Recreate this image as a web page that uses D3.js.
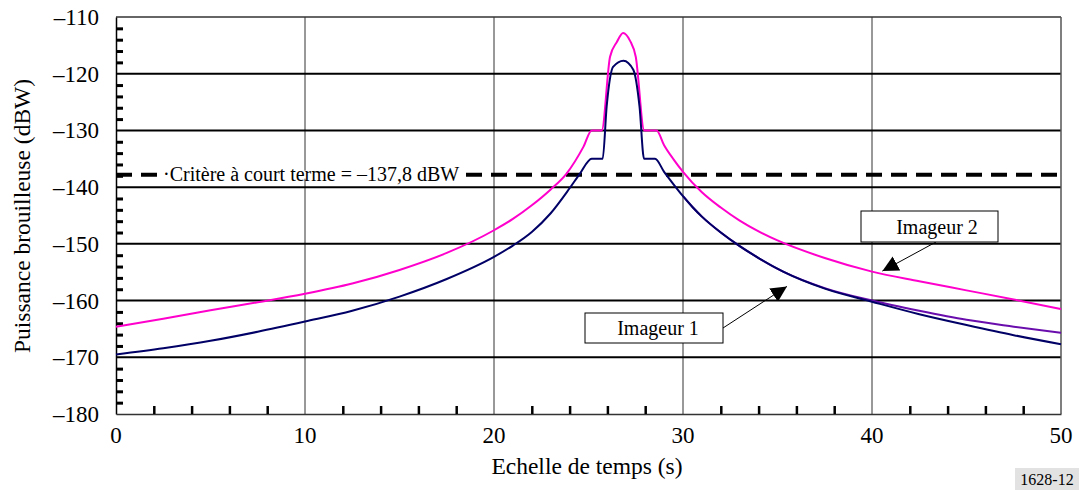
<!DOCTYPE html>
<html>
<head>
<meta charset="utf-8">
<script src="https://cdn.jsdelivr.net/npm/d3@7"></script>
<style>
  body { margin: 0; background: #fff; }
  svg { display: block; }
  text { font-family: "Liberation Serif", "Times New Roman", serif; fill: #000; }
</style>
</head>
<body>
<svg id="chart" width="1081" height="490"></svg>
<script>
// time (s) and interference power (dBW)
var timeImg2 = [0, 2.5, 5, 7.5, 10, 12.5, 15, 17.5, 20, 21, 22, 23, 23.84, 24.73, 25.17, 25.7, 26.14, 26.5, 26.83, 27.2, 27.5, 27.95, 28.6, 29, 29.5, 30, 31, 32, 33, 34, 35, 37.5, 40, 42.5, 45, 47.5, 50];
var powerImg2 = [-164.6, -163.2, -161.7, -160.3, -158.8, -157.0, -154.6, -151.6, -147.6, -145.6, -143.2, -140.4, -137.6, -132.9, -130, -130, -117, -114.4, -112.8, -114.2, -117, -130, -130, -132.6, -135.1, -137.3, -140.9, -143.6, -145.9, -147.8, -149.4, -152.5, -154.9, -156.6, -158.2, -159.8, -161.5];

var timeImg1 = [0, 2.5, 5, 7.5, 10, 12.5, 15, 17.5, 20, 21, 22, 23, 24, 24.55, 25.17, 25.75, 25.96, 26.3, 26.85, 27.37, 27.7, 27.94, 28.52, 29, 29.5, 30, 30.5, 31, 32, 33, 34, 35.3, 37.5, 40, 42.5, 45, 47.5, 50];
var powerImg1 = [-169.5, -168.4, -167.1, -165.5, -163.7, -161.8, -159.3, -156.2, -152.3, -150.3, -147.9, -144.6, -140.2, -137.6, -135, -135, -125.8, -118.8, -117.7, -119.3, -125.8, -135, -135, -137.3, -139.5, -141.6, -143.5, -145.2, -148.0, -150.4, -152.5, -154.9, -157.9, -160.2, -162.4, -164.3, -166.1, -167.7];

var timeImg1b = [30, 30.5, 31, 32, 33, 34, 35.3, 37.5, 40, 42.5, 45, 47.5, 50];
var powerImg1b = [-141.6, -143.5, -145.2, -148.0, -150.4, -152.5, -154.9, -157.8, -160.0, -161.8, -163.4, -164.6, -165.7];

var xTicks = [0, 10, 20, 30, 40, 50];
var yTicks = [-110, -120, -130, -140, -150, -160, -170, -180];
var criterion = -137.8;

(function() {
var svg = d3.select("#chart");
var pl = 116, pr = 1061, pt = 17, pb = 414;

var x = d3.scaleLinear().domain([0, 50]).range([pl, pr]);
var y = d3.scaleLinear().domain([-180, -110]).range([pb, pt]);

var minorX = d3.range(0, 51, 2).filter(function(d) { return d % 10 !== 0; });
var minorY = d3.range(-180, -109, 2).filter(function(d) { return d % 10 !== 0; });

// vertical grid
svg.append("g").selectAll("line")
  .data(xTicks.slice(1, -1))
  .enter().append("line")
  .attr("x1", function(d) { return x(d); })
  .attr("x2", function(d) { return x(d); })
  .attr("y1", pt).attr("y2", pb)
  .attr("stroke", "#333").attr("stroke-width", 1);

// horizontal grid
svg.append("g").selectAll("line")
  .data(yTicks.slice(1, -1))
  .enter().append("line")
  .attr("x1", pl).attr("x2", pr)
  .attr("y1", function(d) { return y(d); })
  .attr("y2", function(d) { return y(d); })
  .attr("stroke", "#000").attr("stroke-width", 2);

// frame
svg.append("line").attr("x1", pl).attr("x2", pr).attr("y1", pt).attr("y2", pt)
  .attr("stroke", "#333").attr("stroke-width", 1.5);
svg.append("line").attr("x1", pr).attr("x2", pr).attr("y1", pt).attr("y2", pb)
  .attr("stroke", "#555").attr("stroke-width", 1.5);

// minor ticks inside the plot
var minorLeft = svg.append("g").attr("transform", "translate(" + pl + ",0)")
  .call(d3.axisLeft(y).tickValues(minorY).tickSize(-7).tickSizeOuter(0).tickFormat(""));
minorLeft.select(".domain").attr("stroke", "#000").attr("stroke-width", 1.5);
minorLeft.selectAll(".tick line").attr("stroke", "#000").attr("stroke-width", 3);

var minorBottom = svg.append("g").attr("transform", "translate(0," + pb + ")")
  .call(d3.axisBottom(x).tickValues(minorX).tickSize(-8).tickSizeOuter(0).tickFormat(""));
minorBottom.select(".domain").attr("stroke", "#333").attr("stroke-width", 1.5);
minorBottom.selectAll(".tick line").attr("stroke", "#000").attr("stroke-width", 2.5);

// tick labels
svg.append("g").selectAll("text")
  .data(yTicks)
  .enter().append("text")
  .attr("x", 99)
  .attr("y", function(d) { return y(d) + 8; })
  .attr("text-anchor", "end")
  .attr("font-size", 23)
  .text(function(d) { return "–" + Math.abs(d); });

svg.append("g").selectAll("text")
  .data(xTicks)
  .enter().append("text")
  .attr("x", function(d) { return x(d); })
  .attr("y", 443)
  .attr("text-anchor", "middle")
  .attr("font-size", 23)
  .text(function(d) { return d; });

// axis titles
svg.append("text")
  .attr("transform", "translate(30,216) rotate(-90)")
  .attr("text-anchor", "middle")
  .attr("font-size", 23.5)
  .text("Puissance brouilleuse (dBW)");

svg.append("text")
  .attr("x", 587).attr("y", 474)
  .attr("text-anchor", "middle")
  .attr("font-size", 23.5)
  .text("Echelle de temps (s)");

// criterion line
svg.append("line")
  .attr("x1", pl).attr("x2", pr)
  .attr("y1", y(criterion)).attr("y2", y(criterion))
  .attr("stroke", "#000").attr("stroke-width", 4)
  .attr("stroke-dasharray", "16,9");

var critLabel = svg.append("g");
var critText = critLabel.append("text")
  .attr("x", 163).attr("y", y(criterion) + 6)
  .attr("font-size", 20)
  .text("·Critère à court terme = –137,8 dBW");
var bb = critText.node().getBBox();
critLabel.insert("rect", "text")
  .attr("x", bb.x - 1).attr("y", y(criterion) - 4)
  .attr("width", bb.width + 3).attr("height", 8)
  .attr("fill", "#fff");

// curves
var line = d3.line()
  .x(function(d) { return x(d[0]); })
  .y(function(d) { return y(d[1]); })
  .curve(d3.curveMonotoneX);

function pairs(t, v) { return t.map(function(d, i) { return [d, v[i]]; }); }

svg.append("path").datum(pairs(timeImg1b, powerImg1b))
  .attr("d", line).attr("fill", "none")
  .attr("stroke", "#6a0dad").attr("stroke-width", 2);
svg.append("path").datum(pairs(timeImg2, powerImg2))
  .attr("d", line).attr("fill", "none")
  .attr("stroke", "#ff00cc").attr("stroke-width", 2);
svg.append("path").datum(pairs(timeImg1, powerImg1))
  .attr("d", line).attr("fill", "none")
  .attr("stroke", "#000066").attr("stroke-width", 2);

// callouts
svg.append("defs").append("marker")
  .attr("id", "arrow")
  .attr("viewBox", "0 0 10 10")
  .attr("refX", 10).attr("refY", 5)
  .attr("markerWidth", 16).attr("markerHeight", 16)
  .attr("markerUnits", "userSpaceOnUse")
  .attr("orient", "auto")
  .append("path").attr("d", "M0,0L10,5L0,10Z").attr("fill", "#000");

function callout(bx, by, bw, bh, label, tx, fromX, fromY, toX, toY) {
  svg.append("line")
    .attr("x1", fromX).attr("y1", fromY).attr("x2", toX).attr("y2", toY)
    .attr("stroke", "#000").attr("stroke-width", 1)
    .attr("marker-end", "url(#arrow)");
  svg.append("rect")
    .attr("x", bx).attr("y", by).attr("width", bw).attr("height", bh)
    .attr("fill", "#fff").attr("stroke", "#000").attr("stroke-width", 1);
  svg.append("text")
    .attr("x", tx).attr("y", by + bh / 2 + 7)
    .attr("text-anchor", "middle")
    .attr("font-size", 20)
    .text(label);
}

callout(861, 211, 137, 31, "Imageur 2", 937, 936, 242, x(40.55), y(-154.8));
callout(585, 313, 138, 30, "Imageur 1", 658, 723, 328, x(35.5), y(-157.5));

// figure number
var fig = svg.append("g");
fig.append("rect").attr("x", 1015).attr("y", 468).attr("width", 64).attr("height", 22).attr("fill", "#e2e2e2");
fig.append("text").attr("x", 1047).attr("y", 485).attr("text-anchor", "middle")
  .attr("font-size", 16).text("1628-12");
})();
</script>
</body>
</html>
